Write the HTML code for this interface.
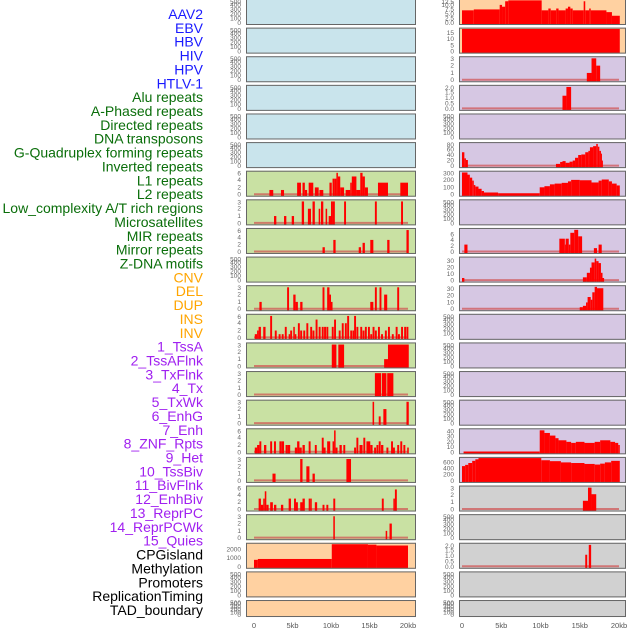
<!DOCTYPE html>
<html><head><meta charset="utf-8">
<style>
html,body{margin:0;padding:0;background:#fff;width:630px;height:630px;overflow:hidden}
svg{display:block}
.lab{font-family:"Liberation Sans",sans-serif;font-size:14px}
.tk{font-family:"Liberation Sans",sans-serif;font-size:6.5px;fill:#666}
.xt{font-family:"Liberation Sans",sans-serif;font-size:7.5px;fill:#555}
</style></head>
<body>
<svg id="chart" width="630" height="630" viewBox="0 0 630 630"></svg>
<script>
// ---- labels ----
const labelNames = ["AAV2","EBV","HBV","HIV","HPV","HTLV-1","Alu repeats","A-Phased repeats","Directed repeats","DNA transposons","G-Quadruplex forming repeats","Inverted repeats","L1 repeats","L2 repeats","Low_complexity A/T rich regions","Microsatellites","MIR repeats","Mirror repeats","Z-DNA motifs","CNV","DEL","DUP","INS","INV","1_TssA","2_TssAFlnk","3_TxFlnk","4_Tx","5_TxWk","6_EnhG","7_Enh","8_ZNF_Rpts","9_Het","10_TssBiv","11_BivFlnk","12_EnhBiv","13_ReprPC","14_ReprPCWk","15_Quies","CPGisland","Methylation","Promoters","ReplicationTiming","TAD_boundary"];
const labelGroups = ["b","b","b","b","b","b","g","g","g","g","g","g","g","g","g","g","g","g","g","o","o","o","o","o","p","p","p","p","p","p","p","p","p","p","p","p","p","p","p","k","k","k","k","k"];
const xTickLabels = ["0","5kb","10kb","15kb","20kb"];
const xTickValues = [0,5,10,15,20];

// ---- series data: [startKb, endKb, value] ----
const L7 = [[2,2.5,1.3],[3.5,3.9,1.3],[5.6,6.1,3.3],[6.3,6.6,3.3],[6.6,6.9,1.3],[7.1,7.7,3.3],[7.9,8.4,2],[8.5,9,1.3],[9.8,10.1,3.3],[10.2,10.5,4.4],[10.5,10.7,4.4],[10.7,10.9,6],[10.9,11.2,5],[11.2,11.7,2],[11.9,12.5,1.3],[12.5,12.7,3.3],[12.7,13.3,5],[13.3,13.8,1.3],[13.8,14.1,6],[14.1,14.4,5],[14.4,14.8,2],[16.1,17.4,3.3],[19,20,3.3]];
const L8 = [[2.6,2.9,1],[3.9,4.2,1],[4.9,5.2,1],[6.2,6.5,3],[7,7.4,2],[7.6,7.9,3],[8.4,8.6,2],[8.7,9,3],[9.3,9.5,2],[9.7,10,1],[10,10.2,3],[10.2,10.5,3],[11.7,11.95,3],[15.7,15.95,3],[19.1,19.35,3]];
const L9 = [[8.9,9.2,1.3],[10.3,10.6,3.3],[13.6,13.9,1.3],[14.1,14.4,2.5],[15.1,15.5,3.3],[17.3,17.6,3.3],[19.8,20.1,6]];
const L11 = [[0.7,1,1],[4.3,4.55,3],[5.1,5.4,2],[5.4,5.7,1],[6,6.3,1],[8.9,9.15,3],[9.5,9.8,3],[9.8,10,2],[10,10.2,1],[15.1,15.5,1],[15.7,15.95,3],[16.3,16.55,3],[16.9,17.3,2],[18.6,18.85,3]];
const L12 = [[0.1,0.4,1],[0.4,0.6,2],[0.6,0.9,3],[1.2,1.5,3],[2.1,2.35,6],[2.7,2.95,2],[3.2,3.45,1],[3.6,3.85,1],[4,4.25,3],[4.5,4.7,1],[4.7,4.95,2],[5.1,5.3,3],[5.3,5.5,1],[5.7,5.95,4],[6,6.25,2],[6.4,6.65,2],[6.8,7.05,4],[7.3,7.55,3],[7.6,7.85,2],[8,8.25,5],[8.4,8.65,3],[8.8,9.05,3],[9.1,9.35,3],[9.4,9.65,3],[10.1,10.35,3],[10.4,10.65,5],[11,11.25,2],[11.4,11.65,4],[11.8,12.05,4],[12.1,12.35,6],[12.5,12.75,2],[12.8,13,2],[13,13.25,6],[13.3,13.55,3],[13.8,14.05,3],[14.1,14.35,2],[14.4,14.65,3],[14.8,15.05,3],[15.1,15.35,1],[15.4,15.65,3],[15.7,15.95,2],[16.1,16.35,3],[16.5,16.75,1],[17,17.25,2],[17.4,17.65,3],[17.9,18.15,1],[18.4,18.65,3],[18.7,18.95,1],[19.1,19.35,3],[19.5,19.75,3],[19.8,20.05,3]];
const L13 = [[10.1,10.7,3],[10.95,11.7,3],[16.9,17.4,1],[17.4,20.1,3]];
const L14 = [[15.7,16.5,3],[16.6,17.2,3],[17.3,18.1,3]];
const L15 = [[15.4,15.6,3],[16.2,16.45,1],[16.8,17.2,2],[19.8,20.1,3]];
const L16 = [[0.1,0.4,1.3],[0.4,0.7,2],[0.7,0.95,3],[1.3,1.6,2],[2.1,2.35,3],[2.6,2.85,3],[3.3,3.6,3],[3.6,3.9,3],[4.1,4.4,2],[4.4,4.7,2],[5.3,5.6,1.3],[5.6,5.9,3],[5.9,6.2,1.3],[6.3,6.6,2],[7.1,7.35,3],[7.9,8.15,2],[8.8,9.05,4],[9,9.3,1.3],[9.5,9.9,3],[10.2,10.4,3],[10.4,10.6,6],[10.6,10.85,1.3],[11.1,11.4,2],[11.6,11.85,2],[13,13.25,1.3],[13.3,13.55,4],[13.7,14.1,2],[14.2,14.45,4],[14.6,15.1,3],[15.1,15.4,2],[15.6,15.85,1.3],[15.9,16.15,2],[16.2,16.45,3],[16.5,16.8,2],[17.2,17.45,1.3],[17.8,18.05,3],[18.05,18.3,1.3],[18.6,18.85,2],[19,19.25,3],[19.4,19.65,2],[19.9,20.1,1.3]];
const L17 = [[2.4,2.8,1],[6,6.3,3],[6.8,7.2,2],[7.6,7.9,1],[12,12.6,3]];
const L18 = [[0.6,0.9,3],[0.9,1.2,1.3],[1.2,1.4,3],[1.4,1.6,5],[1.6,1.9,1.3],[2.1,2.45,2],[2.6,2.9,1.3],[3.5,3.8,1.3],[4.5,4.8,3],[5.2,5.45,3],[5.45,5.7,2],[6,6.3,2],[6.3,6.6,3],[7.1,7.3,3],[7.3,7.5,3],[7.9,8.2,2],[8.9,9.15,1.3],[9.4,9.65,1.3],[10.3,10.55,3],[16.6,16.85,3],[18.1,18.3,3],[18.3,18.55,5.5]];
const L19 = [[10.3,10.5,3],[17.1,17.3,1],[17.6,17.9,2]];
const L20 = [[0,0.5,800],[0.5,10.1,900],[10.1,14.8,2600],[14.8,15.9,2550],[15.9,20,2450]];
const R1 = [[0,1.5,7],[1.5,4.8,7.5],[4.8,5.1,10],[5.1,5.5,9],[5.5,5.9,12],[5.9,10.15,12.5],[10.15,11,7],[11,11.3,8],[11.3,12,7],[12,12.3,8],[12.3,13.2,7],[13.2,13.5,8],[13.5,13.8,9],[13.8,14.1,8],[14.1,15.5,7],[15.5,15.7,12],[15.7,16.2,7],[16.2,16.4,8],[16.4,18.4,7],[18.4,19.1,6],[19.1,20.1,4]];
const R2 = [[0,20.1,18]];
const R3 = [[15.9,16.5,1],[16.5,17.1,3],[17.1,17.6,2]];
const R4 = [[12.8,13.3,1.2],[13.3,13.9,2]];
const R6 = [[0,0.3,50],[0.3,0.5,28],[0.5,0.75,22],[11.97,12.5,8],[12.5,12.8,15],[12.8,13.2,18],[13.2,13.7,12],[13.7,14.1,16],[14.1,14.4,20],[14.4,14.8,30],[14.8,15.2,40],[15.2,15.7,42],[15.7,16.1,50],[16.1,16.3,55],[16.3,16.7,68],[16.7,17.1,72],[17.1,17.3,80],[17.3,17.5,70],[17.5,17.7,55],[17.7,17.8,45],[17.8,17.95,20]];
const R7 = [[0,0.7,300],[0.7,1,270],[1,1.3,230],[1.3,1.5,190],[1.5,1.7,130],[1.7,2.1,110],[2.1,2.5,80],[2.5,2.8,50],[2.8,4.6,30],[4.6,9.9,20],[9.9,10.5,100],[10.5,11.2,115],[11.2,11.8,140],[11.8,12.7,150],[12.7,13.5,160],[13.5,13.9,180],[13.9,15,200],[15,16.5,195],[16.5,17.4,165],[17.4,17.8,190],[17.8,18.7,205],[18.7,19.1,180],[19.1,19.7,150],[19.7,20.1,125]];
const R9 = [[0.3,0.7,2.5],[12.4,13.1,4.5],[13.1,13.2,2.5],[13.2,13.6,4.5],[13.6,13.8,2.5],[13.8,14.3,6.5],[14.3,14.8,7.5],[14.8,15.3,5.3],[16.8,17.2,1.3],[17.4,17.8,2.5]];
const R10 = [[0,0.3,4],[15.4,15.9,5],[15.9,16.3,12],[16.3,16.5,20],[16.5,16.9,28],[16.9,17.1,34],[17.1,17.4,30],[17.4,17.7,27],[17.7,17.9,12],[17.9,18.1,4]];
const R11 = [[15,15.4,3],[15.4,15.8,5],[15.8,16,10],[16,16.4,18],[16.4,16.6,14],[16.6,16.9,25],[16.9,17.2,33],[17.2,18,31]];
const R16 = [[0.2,9.9,1.5],[9.9,10.5,42],[10.5,11.2,37],[11.2,11.9,32],[11.9,12.3,27],[12.3,13.3,23],[13.3,13.9,20],[13.9,14.5,18],[14.5,15.6,20],[15.6,16.9,18],[16.9,17.6,20],[17.6,18.9,23],[18.9,19.5,20],[19.5,19.9,18],[19.9,20.1,14]];
const R17 = [[0,0.4,480],[0.4,0.8,520],[0.8,1.3,580],[1.3,1.7,650],[1.7,2.1,700],[2.1,10.1,740],[10.1,11.2,670],[11.2,12.6,640],[12.6,13.9,600],[13.9,15.6,580],[15.6,16.9,550],[16.9,17.6,530],[17.6,18.2,560],[18.2,19,600],[19,20.1,650]];
const R18 = [[15.4,16.05,1.2],[16.05,16.5,3],[16.5,17.1,2.1]];
const R20 = [[15.7,15.95,1.1],[16.15,16.45,2]];

const BLUE="#c9e4ec", GREEN="#c9e1a3", ORANGE="#ffd1a1", PURPLE="#d6c7e3", GRAY="#d1d1d1";
const E=[0,100,200,300,400,500];
const panels = [
 [0,0,BLUE,E,510,null,0],[0,1,BLUE,E,510,null,0],[0,2,BLUE,E,510,null,0],[0,3,BLUE,E,510,null,0],[0,4,BLUE,E,510,null,0],[0,5,BLUE,E,510,null,0],
 [0,6,GREEN,[0,2,4,6],6.3,L7,1],[0,7,GREEN,[0,1,2,3],3.15,L8,1],[0,8,GREEN,[0,2,4,6],6.3,L9,1],[0,9,GREEN,E,510,null,0],
 [0,10,GREEN,[0,1,2,3],3.15,L11,1],[0,11,GREEN,[0,2,4,6],6.3,L12,1],[0,12,GREEN,[0,1,2,3],3.15,L13,1],[0,13,GREEN,[0,1,2,3],3.15,L14,1],
 [0,14,GREEN,[0,1,2,3],3.15,L15,1],[0,15,GREEN,[0,2,4,6],6.3,L16,1],[0,16,GREEN,[0,1,2,3],3.15,L17,1],[0,17,GREEN,[0,2,4,6],6.3,L18,1],
 [0,18,GREEN,[0,1,2,3],3.15,L19,1],[0,19,ORANGE,[0,1000,2000],2650,L20,0],[0,20,ORANGE,E,510,null,0],[0,21,ORANGE,E,510,null,0],
 [1,0,ORANGE,[0,2.5,5,7.5,10,12.5],12.7,R1,0],[1,1,ORANGE,[0,5,10,15],18.3,R2,0],[1,2,PURPLE,[0,1,2,3],3.15,R3,1],[1,3,PURPLE,[0,0.5,1,1.5,2],2.1,R4,1],
 [1,4,PURPLE,E,510,null,0],[1,5,PURPLE,[0,20,40,60,80],83,R6,1],[1,6,PURPLE,[0,100,200,300],310,R7,0],[1,7,PURPLE,E,510,null,0],
 [1,8,PURPLE,[0,2,4,6],7.8,R9,1],[1,9,PURPLE,[0,10,20,30],35.5,R10,1],[1,10,PURPLE,[0,10,20,30],34,R11,1],[1,11,PURPLE,E,510,null,0],
 [1,12,PURPLE,E,510,null,0],[1,13,PURPLE,E,510,null,0],[1,14,PURPLE,E,510,null,0],[1,15,PURPLE,[0,10,20,30,40],44,R16,0],
 [1,16,PURPLE,[0,200,400,600],745,R17,0],[1,17,GRAY,[0,1,2,3],3.15,R18,1],[1,18,GRAY,E,510,null,0],[1,19,GRAY,[0,0.5,1,1.5,2],2.1,R20,1],
 [1,20,GRAY,E,510,null,0],[1,21,GRAY,E,510,null,0]
];

const NS="http://www.w3.org/2000/svg";
const svg=document.getElementById('chart');
function mk(tag,attrs,parent){const e=document.createElementNS(NS,tag);for(const k in attrs)e.setAttribute(k,attrs[k]);(parent||svg).appendChild(e);return e;}

const colors={b:"#1a1aff",g:"#0a6e0a",o:"#ffa500",p:"#a020f0",k:"#000"};
labelNames.forEach((n,i)=>{
  const t=mk('text',{x:203,y:19+i*13.86,'text-anchor':'end',class:'lab',fill:colors[labelGroups[i]]});
  t.textContent=n;
  
  
});

const colX=[[246,416,254,408],[459,626,462,619]];
function rowTop(r){return -1+r*28.62;}
function xScale(c,kb){const C=colX[c];return C[2]+kb*(C[3]-C[2])/20;}

panels.forEach(p=>{
  const [c,r,bg,ticks,ymax,data,base]=p;
  const top=rowTop(r), h=(r===21?17:26), bot=top+h;
  const C=colX[c];
  const g=mk('g',{});
  
  
  mk('rect',{x:C[0],y:top,width:C[1]-C[0],height:h,fill:bg},g);
  const y=v=>bot-2-v/ymax*(h-3);
  if(base){
    const bl=mk('line',{x1:xScale(c,0),x2:xScale(c,20),y1:y(0)-0.5,y2:y(0)-0.5,stroke:'#d05050','stroke-width':2,'stroke-opacity':0.7},g);
    
    
  }
  if(data){data.forEach(d=>{
    const x1=xScale(c,d[0]),x2=xScale(c,d[1]);
    const yy=Math.max(top+0.5,y(d[2]));
    const b=mk('rect',{x:x1,y:yy,width:Math.max(1,x2-x1),height:y(0)-yy+1.5,fill:'#ff0000'},g);
    
    
  });}
  mk('rect',{x:C[0]+0.5,y:top+0.5,width:C[1]-C[0]-1,height:h-1,fill:'none',stroke:'#666','stroke-width':1},g);
  const dec=ticks.some(t=>t%1!==0)?1:0;
  ticks.forEach(t=>{
    const tt=mk('text',{x:C[0]-5,y:Math.max(top+3,y(t))+2,'text-anchor':'end',class:'tk'},g);
    tt.textContent=t.toFixed(dec);
    
    
  });
});

[0,1].forEach(c=>{
  xTickValues.forEach((v,i)=>{
    const t=mk('text',{x:xScale(c,v),y:628,'text-anchor':'middle',class:'xt'});
    t.textContent=xTickLabels[i];
    
    
  });
});
</script>
</body></html>
